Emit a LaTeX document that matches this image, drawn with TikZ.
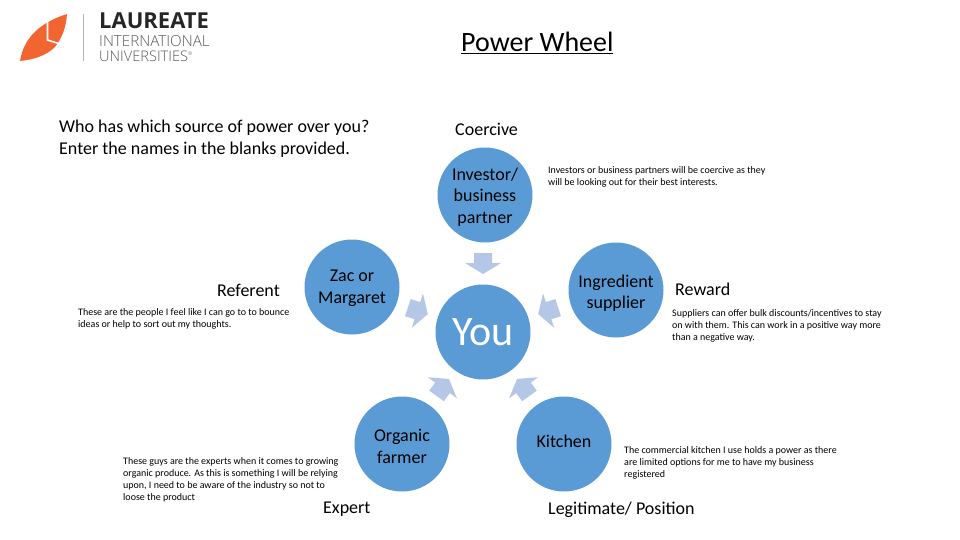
\documentclass[tikz,border=0pt]{standalone}
\usepackage{fontspec}
\setmainfont{Carlito}
\newfontfamily\logofont{Open Sans}
\newfontfamily\logolight{Open Sans Light}
\usetikzlibrary{positioning,calc}
\definecolor{wheelblue}{HTML}{5B9BD5}
\definecolor{arrowblue}{HTML}{B4C7E7}
\definecolor{logoorange}{HTML}{F26430}
\newcommand{\wheeltext}[2]{\raisebox{#1}[\height][\depth]{\begin{tabular}{@{}c@{}}#2\end{tabular}}}
\tikzset{
  wheel/.style={circle,fill=wheelblue,draw=none,minimum size=95pt,inner sep=0pt,align=center,text=black,font=\fontsize{18}{21.5}\selectfont},
  head/.style={anchor=west,inner sep=0pt,font=\fontsize{18}{22}\selectfont},
  small/.style={anchor=north west,inner sep=0pt,align=left,font=\fontsize{10}{12}\selectfont}
}
\begin{document}
\begin{tikzpicture}[x=1pt,y=-1pt]
\useasboundingbox (0,0) rectangle (960,540);
% logo
\fill[logoorange] (20,61) .. controls (24,36) and (42,22) .. (67,14) .. controls (66,28) and (62,38) .. (55,47) .. controls (46,56) and (32,60) .. (20,61) -- cycle;
\draw[white,line width=1.6pt] (47.5,21) -- (47.5,40) -- (60,44);
\draw[black!30] (83,14) -- (83,61);
\node[anchor=west,inner sep=0pt,text=black!85,font=\logofont\bfseries\fontsize{22}{22}\selectfont] (logoa) at (99,21) {LAUREATE};
\node[anchor=west,inner sep=0pt,text=black!65,font=\logolight\fontsize{15.2}{16}\selectfont] (logob) at (99,41) {INTERNATIONAL};
\node[anchor=west,inner sep=0pt,text=black!65,font=\logolight\fontsize{14.6}{16}\selectfont] (logoc) at (99,56) {UNIVERSITIES\textsuperscript{\tiny ®}};
% title and texts
\node[anchor=west,inner sep=0pt,font=\fontsize{28}{30}\selectfont] (title) at (461,43) {\underline{Power Wheel}};
\node[anchor=north west,inner sep=0pt,align=left,font=\fontsize{18}{22}\selectfont] (ask) at (59,120) {Who has which source of power over you?\\Enter the names in the blanks provided.};
\node[head] (coercive) at (455,129) {Coercive};
\node[head] (referent) at (217,290) {Referent};
\node[head] (reward) at (675,289) {Reward};
\node[head] (expert) at (323,509) {Expert};
\node[head] (legit) at (548,510) {Legitimate/ Position};
% wheel
\node[wheel] (you) at (483,332) {\fontsize{42}{44}\selectfont\color{white}You};
\node[wheel] (investor) at (485,195) {\wheeltext{-2.5pt}{Investor/\\business\\partner}};
\node[wheel] (zac) at (352,287) {\wheeltext{-1pt}{Zac or\\Margaret}};
\node[wheel] (ingredient) at (616,290) {\wheeltext{-3.5pt}{Ingredient\\supplier}};
\node[wheel] (organic) at (402,444) {\wheeltext{-4pt}{Organic\\farmer}};
\node[wheel] (kitchen) at (564,444) {\wheeltext{1pt}{Kitchen}};
% arrows
\foreach \ang in {0,72,144,216,288}
  \fill[arrowblue,rotate around={\ang:(you.center)}] (474,253) -- (492,253) -- (492,263) -- (501,263) -- (483,274) -- (465,263) -- (474,263) -- cycle;
% notes
\node[small] (noteinv) at (548,166) {Investors or business partners will be coercive as they\\will be looking out for their best interests.};
\node[small] (noteref) at (78,308) {These are the people I feel like I can go to to bounce\\ideas or help to sort out my thoughts.};
\node[small] (noterew) at (672,309) {Suppliers can offer bulk discounts/incentives to stay\\on with them. This can work in a positive way more\\than a negative way.};
\node[small] (notekit) at (624,446) {The commercial kitchen I use holds a power as there\\are limited options for me to have my business\\registered};
\node[small] (noteexp) at (123,457) {These guys are the experts when it comes to growing\\organic produce. As this is something I will be relying\\upon, I need to be aware of the industry so not to\\loose the product};
\end{tikzpicture}
\end{document}
